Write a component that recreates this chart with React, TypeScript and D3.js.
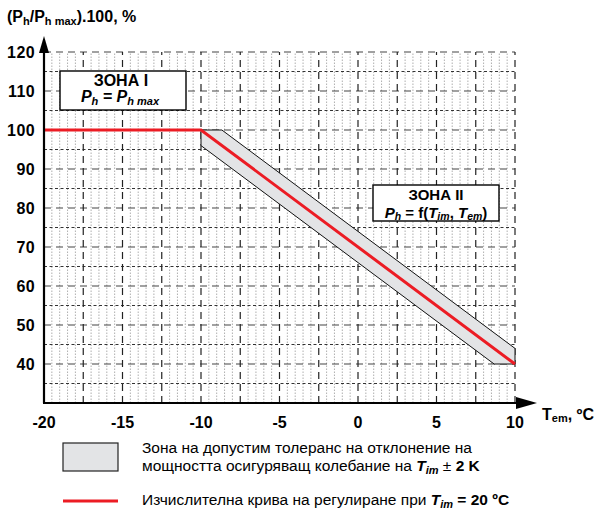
import React from 'react'
import * as d3 from 'd3'

// chart data
const xTickLabels = [-20, -15, -10, -5, 0, 5, 10]
const yTickLabels = [40, 50, 60, 70, 80, 90, 100, 110, 120]
const curveT = [-20, -10, 10]
const curveP = [100, 100, 40]
// tolerance zone (Tim ± 2 K) outline
const bandT = [-10, -8.67, 10, 10, 8.67, -10]
const bandP = [100, 100, 44, 40, 40, 96]

const legendBand = ['Зона на допустим толеранс на отклонение на', 'мощността осигуряващ колебание на ']
const legendCurve = 'Изчислителна крива на регулиране при '

const W = 595
const H = 509
const font = '"Liberation Sans", Arial, sans-serif'

export default function App() {
  const x = d3.scaleLinear().domain([-20, 10]).range([44, 515])
  const y = d3.scaleLinear().domain([30, 120]).range([403, 52])

  const minorX = d3.range(-19.5, 10.01, 0.5).filter((v) => Math.abs(v / 2.5 - Math.round(v / 2.5)) > 1e-6)
  const majorX = d3.range(-17.5, 10.01, 2.5)
  const gridY = d3.range(35, 120.01, 5)

  const line = d3
    .line<number>()
    .x((_, i) => x(curveT[i]))
    .y((d) => y(d))
  const band = d3
    .line<number>()
    .x((_, i) => x(bandT[i]))
    .y((d) => y(d))

  return (
    <svg width={W} height={H} style={{ position: 'absolute', left: 0, top: 0, background: '#fff' }} fontFamily={font}>
      {/* grid */}
      {minorX.map((v) => (
        <line key={'mx' + v} x1={x(v)} x2={x(v)} y1={y(30)} y2={y(120)} stroke="#9a9a9a" strokeWidth={0.8} strokeDasharray="1.5,1.5" />
      ))}
      {gridY.map((v) => (
        <line
          key={'gy' + v}
          x1={x(-20)}
          x2={x(10)}
          y1={y(v)}
          y2={y(v)}
          stroke={v % 10 === 0 ? '#444' : '#333'}
          strokeWidth={v % 10 === 0 ? 1.2 : 1}
          strokeDasharray={v % 10 === 0 ? '7,5' : '3,2.5'}
        />
      ))}
      {majorX.map((v) => (
        <line key={'Mx' + v} x1={x(v)} x2={x(v)} y1={y(30)} y2={y(120)} stroke="#222" strokeWidth={1.2} strokeDasharray="7,5" />
      ))}

      {/* tolerance band */}
      <path d={band(bandP) + 'Z'} fill="#e3e4e6" stroke="#111" strokeWidth={1} />
      {/* control curve */}
      <path d={line(curveP) || ''} fill="none" stroke="#ec1c24" strokeWidth={3} />

      {/* axes */}
      <line x1={x(-20)} x2={x(-20)} y1={y(30)} y2={44} stroke="#000" strokeWidth={2.2} />
      <polygon points={`${x(-20)},36 ${x(-20) - 5},53 ${x(-20) + 5},53`} fill="#000" />
      <line x1={x(-20) - 1} x2={528} y1={y(30)} y2={y(30)} stroke="#000" strokeWidth={2.2} />
      <polygon points={`537,${y(30)} 516,${y(30) - 6} 516,${y(30) + 6}`} fill="#000" />

      {yTickLabels.map((v) => (
        <text key={'yl' + v} x={35} y={y(v) + 5.5} textAnchor="end" fontSize={16} fontWeight="bold" letterSpacing={0.4}>
          {v}
        </text>
      ))}
      {xTickLabels.map((v) => (
        <text key={'xl' + v} x={x(v)} y={428} textAnchor="middle" fontSize={16} fontWeight="bold">
          {v}
        </text>
      ))}

      {/* axis titles */}
      <text x={7} y={22} fontSize={16} fontWeight="bold">
        (P<tspan fontSize={11} dy={3}>h</tspan>
        <tspan dy={-3}>/P</tspan>
        <tspan fontSize={11} dy={3}>h max</tspan>
        <tspan dy={-3}>).100, %</tspan>
      </text>
      <text x={542} y={420} fontSize={16} fontWeight="bold">
        T<tspan fontSize={11} dy={2}>em</tspan>
        <tspan dy={-2}>, ºC</tspan>
      </text>

      {/* zone labels */}
      <rect x={60} y={71} width={126} height={39} fill="#fff" stroke="#000" strokeWidth={1.4} />
      <text x={121} y={86} textAnchor="middle" fontSize={16} fontWeight="bold">
        ЗОНА I
      </text>
      <text x={120} y={102} textAnchor="middle" fontSize={16} fontWeight="bold" fontStyle="italic">
        P<tspan fontSize={11} dy={3}>h</tspan>
        <tspan dy={-3}> = P</tspan>
        <tspan fontSize={11} dy={3}>h max</tspan>
      </text>

      <rect x={373} y={185} width={126} height={36} fill="#fff" stroke="#000" strokeWidth={1.4} />
      <text x={436} y={200} textAnchor="middle" fontSize={15} fontWeight="bold">
        ЗОНА II
      </text>
      <text x={436} y={217.5} textAnchor="middle" fontSize={15} fontWeight="bold">
        <tspan fontStyle="italic">P</tspan>
        <tspan fontSize={10.5} dy={2} fontStyle="italic">h</tspan>
        <tspan dy={-2}> = f(</tspan>
        <tspan fontStyle="italic">T</tspan>
        <tspan fontSize={10.5} dy={2} fontStyle="italic">im</tspan>
        <tspan dy={-2}>, </tspan>
        <tspan fontStyle="italic">T</tspan>
        <tspan fontSize={10.5} dy={2} fontStyle="italic">em</tspan>
        <tspan dy={-2}>)</tspan>
      </text>

      {/* legend */}
      <rect x={63} y={443} width={55} height={28} fill="#e3e4e6" stroke="#222" strokeWidth={1.2} />
      <text x={142} y={453} fontSize={15.5}>
        {legendBand[0]}
      </text>
      <text x={142} y={471} fontSize={15.5}>
        {legendBand[1]}
        <tspan fontWeight="bold" fontStyle="italic">T</tspan>
        <tspan fontSize={11} dy={3} fontWeight="bold" fontStyle="italic">im</tspan>
        <tspan dy={-3}>{'  ± '}</tspan>
        <tspan fontWeight="bold">2 K</tspan>
      </text>
      <line x1={63} x2={118} y1={501} y2={501} stroke="#ec1c24" strokeWidth={3} />
      <text x={142} y={505} fontSize={15.5}>
        {legendCurve}
        <tspan fontWeight="bold" fontStyle="italic">T</tspan>
        <tspan fontSize={11} dy={3} fontWeight="bold" fontStyle="italic">im</tspan>
        <tspan dy={-3} fontWeight="bold">{' = 20 ºC'}</tspan>
      </text>
    </svg>
  )
}
